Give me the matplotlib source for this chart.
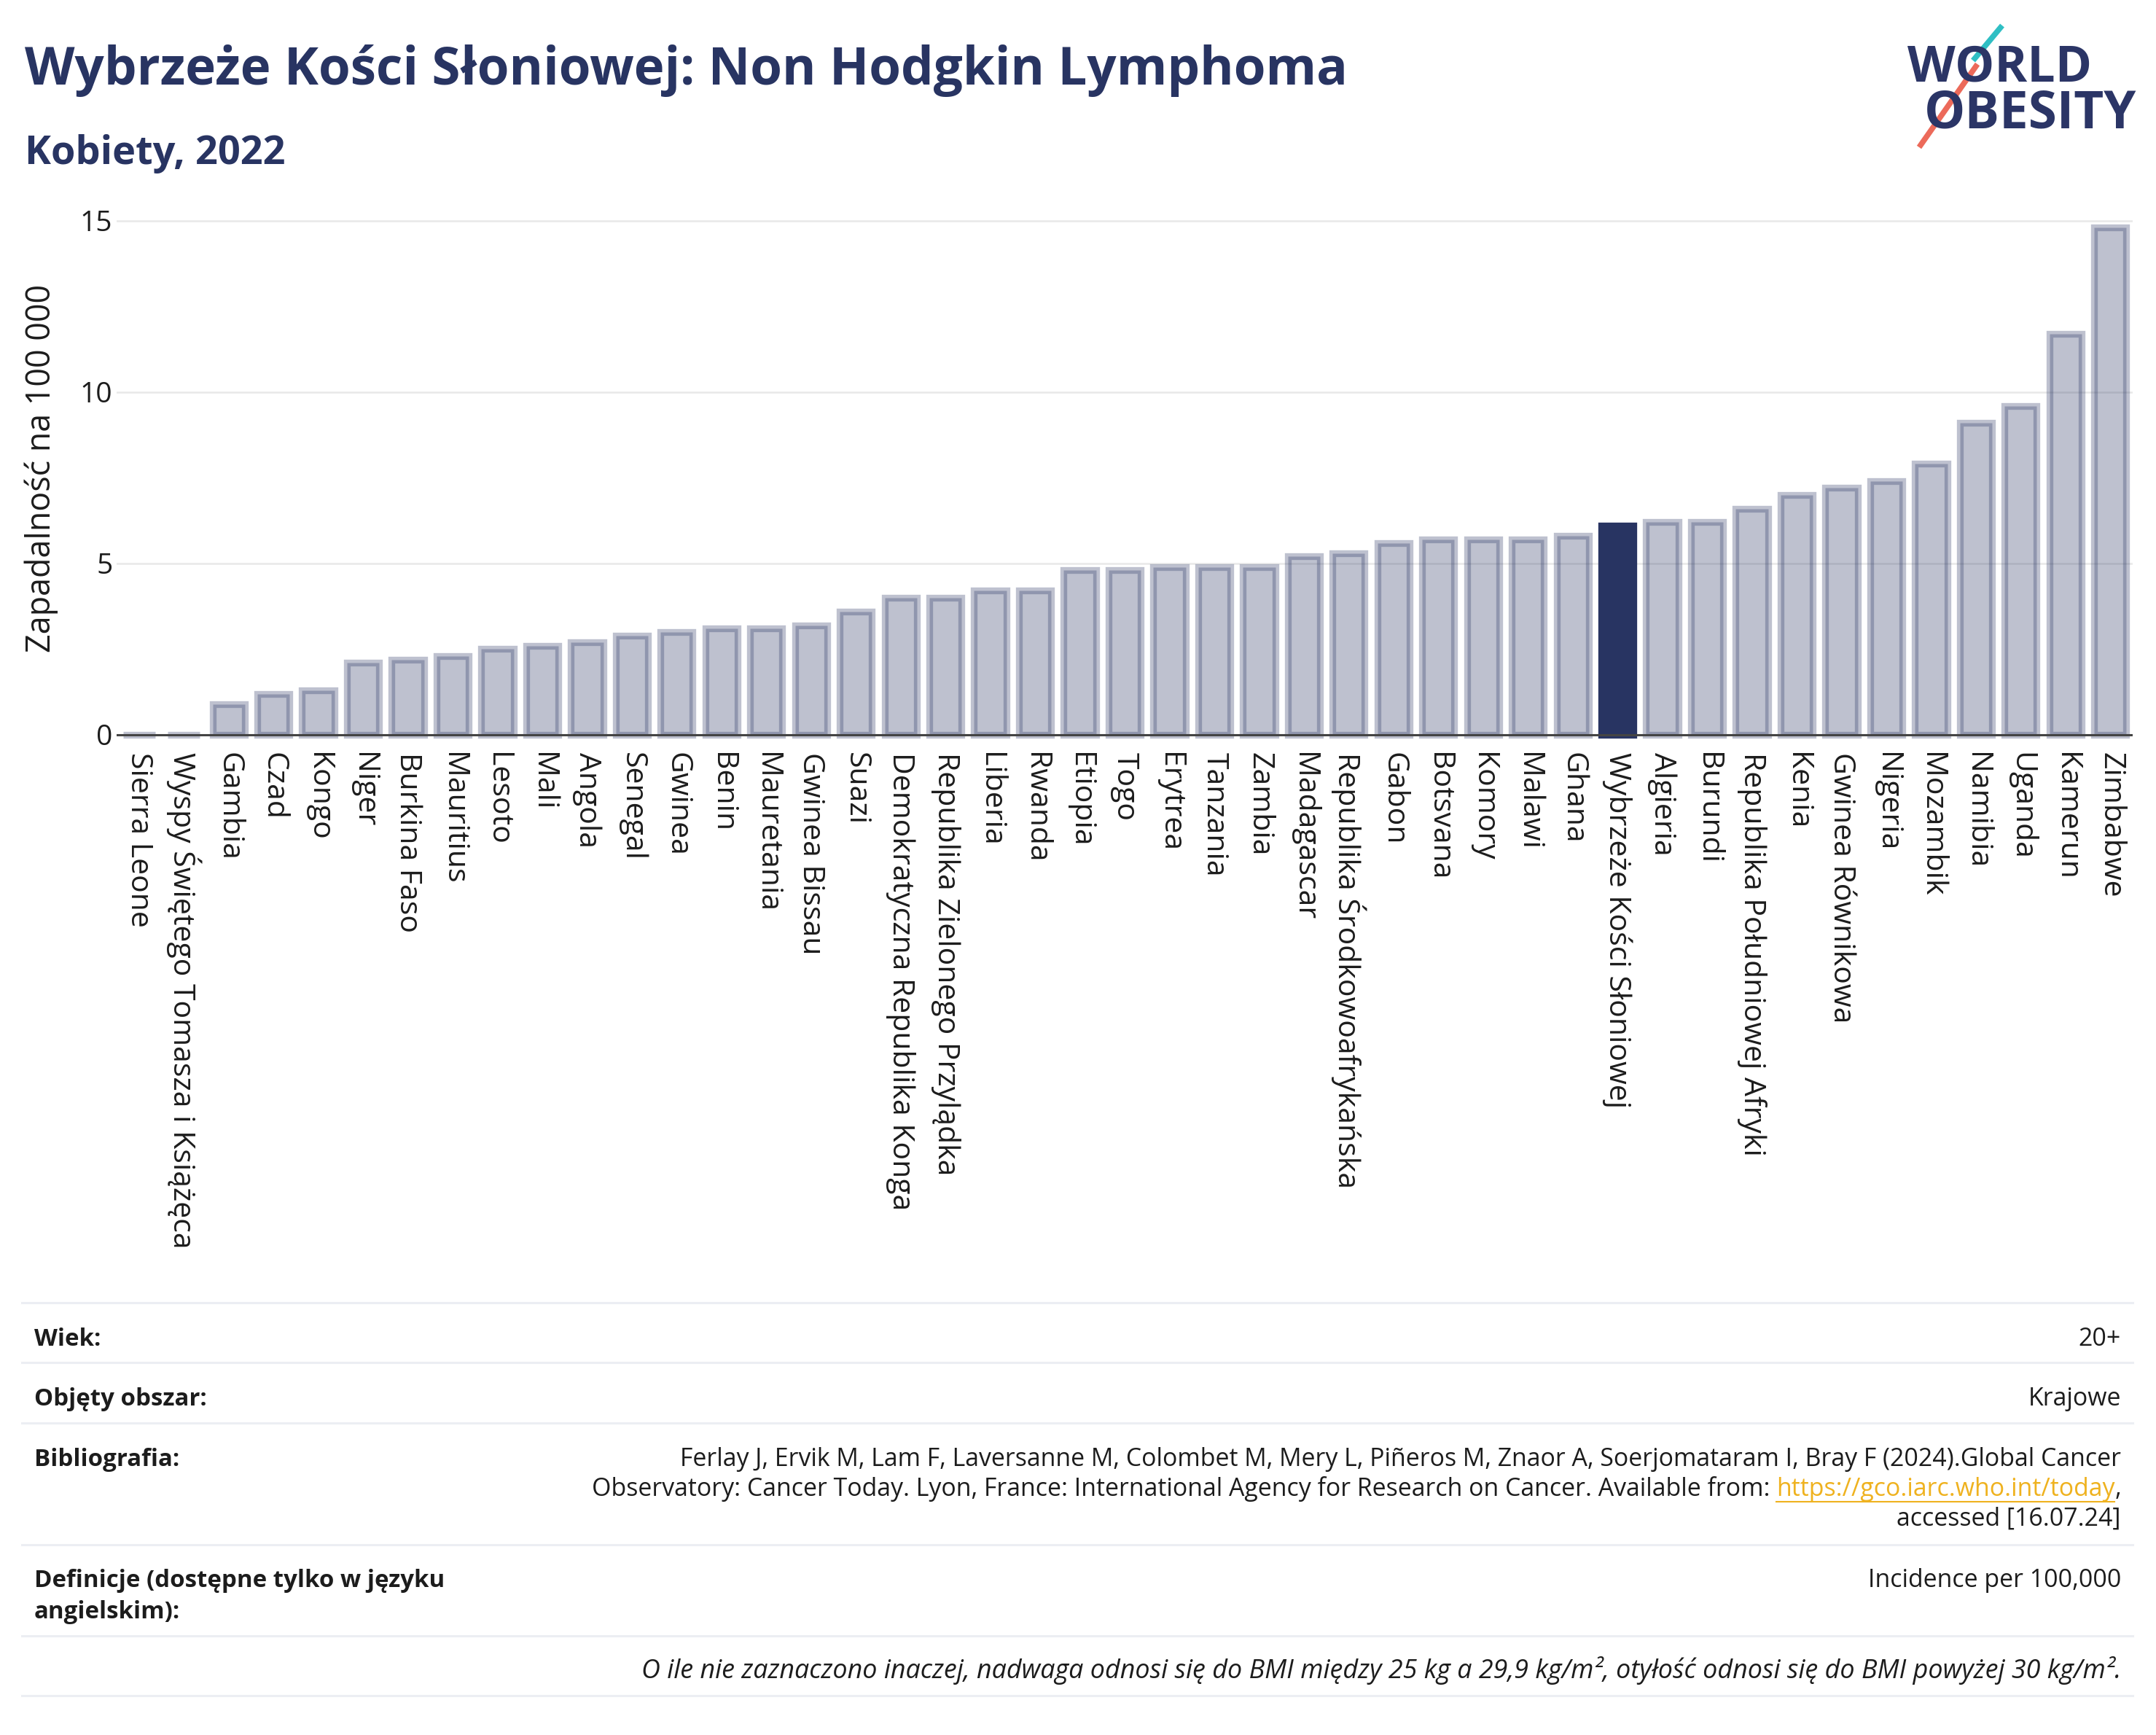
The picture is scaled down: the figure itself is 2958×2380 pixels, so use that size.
import matplotlib.pyplot as plt
from matplotlib.colors import to_rgba
from matplotlib.lines import Line2D

countries = ['Sierra Leone', 'Wyspy Świętego Tomasza i Książęca', 'Gambia', 'Czad', 'Kongo',
             'Niger', 'Burkina Faso', 'Mauritius', 'Lesoto', 'Mali', 'Angola', 'Senegal',
             'Gwinea', 'Benin', 'Mauretania', 'Gwinea Bissau', 'Suazi',
             'Demokratyczna Republika Konga', 'Republika Zielonego Przylądka', 'Liberia',
             'Rwanda', 'Etiopia', 'Togo', 'Erytrea', 'Tanzania', 'Zambia', 'Madagascar',
             'Republika Środkowoafrykańska', 'Gabon', 'Botsvana', 'Komory', 'Malawi', 'Ghana',
             'Wybrzeże Kości Słoniowej', 'Algieria', 'Burundi', 'Republika Południowej Afryki',
             'Kenia', 'Gwinea Równikowa', 'Nigeria', 'Mozambik', 'Namibia', 'Uganda',
             'Kamerun', 'Zimbabwe']
values = [0.0, 0.0, 0.9, 1.2, 1.3, 2.1, 2.2, 2.3, 2.5, 2.6, 2.7, 2.9, 3.0, 3.1, 3.1, 3.2,
          3.6, 4.0, 4.0, 4.2, 4.2, 4.8, 4.8, 4.9, 4.9, 4.9, 5.2, 5.3, 5.6, 5.7, 5.7, 5.7,
          5.8, 6.1, 6.2, 6.2, 6.6, 7.0, 7.2, 7.4, 7.9, 9.1, 9.6, 11.7, 14.8]
highlight = 'Wybrzeże Kości Słoniowej'
yticks = [0, 5, 10, 15]

title = 'Wybrzeże Kości Słoniowej: Non Hodgkin Lymphoma'
subtitle = 'Kobiety, 2022'
ylabel = 'Zapadalność na 100 000'

W, H = 2958, 2380
navy = '#283462'
textc = '#1c1c1c'

plt.rcParams['font.family'] = ['Open Sans', 'DejaVu Sans']

fig = plt.figure(figsize=(W / 100, H / 100), dpi=100)


def fx(px):
    return px / W


def fy(py):
    return 1 - py / H


# plot area in pixels
ax_left, ax_right = 160, 2926
y_lo, y_hi = -0.12, 15.6
ppu = 47.03
zero_px = 1008
ax_top = zero_px - y_hi * ppu
ax_bot = zero_px - y_lo * ppu
ax = fig.add_axes([fx(ax_left), fy(ax_bot), (ax_right - ax_left) / W, (ax_bot - ax_top) / H])

faces = [navy if c == highlight else to_rgba(navy, 0.3) for c in countries]
edges = [navy if c == highlight else to_rgba(navy, 0.3) for c in countries]
x = list(range(len(countries)))
ax.bar(x, values, width=0.72, color=faces, edgecolor=edges, linewidth=6.7, zorder=2, clip_on=False)
ax.axhline(0, color='#444444', linewidth=2.2, zorder=3)

ax.set_xlim(-0.5, len(countries) - 0.5)
ax.set_ylim(y_lo, y_hi)
ax.set_yticks(yticks)
ax.set_yticklabels([str(t) for t in yticks], fontsize=28, color=textc)
ax.yaxis.grid(True, color='#e8e8e8', linewidth=1.8)
ax.set_axisbelow(True)
ax.set_xticks(x)
ax.set_xticklabels(countries, rotation=-90, ha='center', va='top', fontsize=29.5, color=textc)
ax.tick_params(axis='x', length=0, pad=13)
ax.tick_params(axis='y', length=0, pad=4)
for s in ax.spines.values():
    s.set_visible(False)

fig.text(fx(57), fy(642), ylabel, rotation=90, ha='center', va='center', fontsize=32.3, color=textc)

# titles
fig.text(fx(34), fy(116), title, fontsize=51, fontweight='bold', color=navy, va='baseline')
fig.text(fx(34), fy(225), subtitle, fontsize=39, fontweight='bold', color=navy, va='baseline')

# logo
fig.text(fx(2617), fy(112), 'WORLD', fontsize=49, fontweight='bold', color='#2b3566', va='baseline')
fig.text(fx(2640), fy(176), 'OBESITY', fontsize=51, fontweight='bold', color='#2b3566', va='baseline')
for (x0, y0, x1, y1, c) in [(2747, 35, 2707, 83, '#2fbfc4'), (2713, 88, 2633, 202, '#ec6a5a')]:
    fig.add_artist(Line2D([fx(x0), fx(x1)], [fy(y0), fy(y1)], color='white', linewidth=11,
                          solid_capstyle='butt'))
    fig.add_artist(Line2D([fx(x0), fx(x1)], [fy(y0), fy(y1)], color=c, linewidth=5.5,
                          solid_capstyle='butt'))

# footer table
for ly in [1787, 1869, 1952, 2119, 2244, 2326]:
    fig.add_artist(Line2D([fx(30), fx(2926)], [fy(ly), fy(ly)], color='#eceef3', linewidth=2.2))

fs = 24.4
fb = 23.8
lx, rx = 47, 2910
fig.text(fx(lx), fy(1846), 'Wiek:', fontsize=fb, fontweight='bold', color=textc, va='baseline')
fig.text(fx(rx), fy(1846), '20+', fontsize=fs, color=textc, va='baseline', ha='right')
fig.text(fx(lx), fy(1928), 'Objęty obszar:', fontsize=fb, fontweight='bold', color=textc, va='baseline')
fig.text(fx(rx), fy(1928), 'Krajowe', fontsize=fs, color=textc, va='baseline', ha='right')
fig.text(fx(lx), fy(2011), 'Bibliografia:', fontsize=fb, fontweight='bold', color=textc, va='baseline')
fig.text(fx(rx), fy(2011), 'Ferlay J, Ervik M, Lam F, Laversanne M, Colombet M, Mery L, Piñeros M, '
         'Znaor A, Soerjomataram I, Bray F (2024).Global Cancer',
         fontsize=fs, color=textc, va='baseline', ha='right')
fig.text(fx(rx), fy(2093), 'accessed [16.07.24]', fontsize=fs, color=textc, va='baseline', ha='right')

renderer = fig.canvas.get_renderer()
t_comma = fig.text(fx(rx), fy(2052), ',', fontsize=fs, color=textc, va='baseline', ha='right')
wc = t_comma.get_window_extent(renderer).width
url_x = rx - wc
t_url = fig.text(fx(url_x), fy(2052), 'https://gco.iarc.who.int/today', fontsize=fs, color='#efb21f',
                 va='baseline', ha='right')
wu = t_url.get_window_extent(renderer).width
fig.add_artist(Line2D([fx(url_x - wu), fx(url_x)], [fy(2060), fy(2060)], color='#efb21f', linewidth=1.5))
fig.text(fx(url_x - wu), fy(2052), 'Observatory: Cancer Today. Lyon, France: International Agency for '
         'Research on Cancer. Available from: ', fontsize=fs, color=textc, va='baseline', ha='right')

fig.text(fx(lx), fy(2177), 'Definicje (dostępne tylko w języku', fontsize=fb, fontweight='bold',
         color=textc, va='baseline')
fig.text(fx(lx), fy(2220), 'angielskim):', fontsize=fb, fontweight='bold', color=textc, va='baseline')
fig.text(fx(rx), fy(2177), 'Incidence per 100,000', fontsize=fs, color=textc, va='baseline', ha='right')
fig.text(fx(rx), fy(2302), 'O ile nie zaznaczono inaczej, nadwaga odnosi się do BMI między 25 kg a 29,9 kg/m², '
         'otyłość odnosi się do BMI powyżej 30 kg/m².', fontsize=25.8, style='italic', color=textc,
         va='baseline', ha='right')

fig.savefig('out.png', dpi=100, facecolor='white')
